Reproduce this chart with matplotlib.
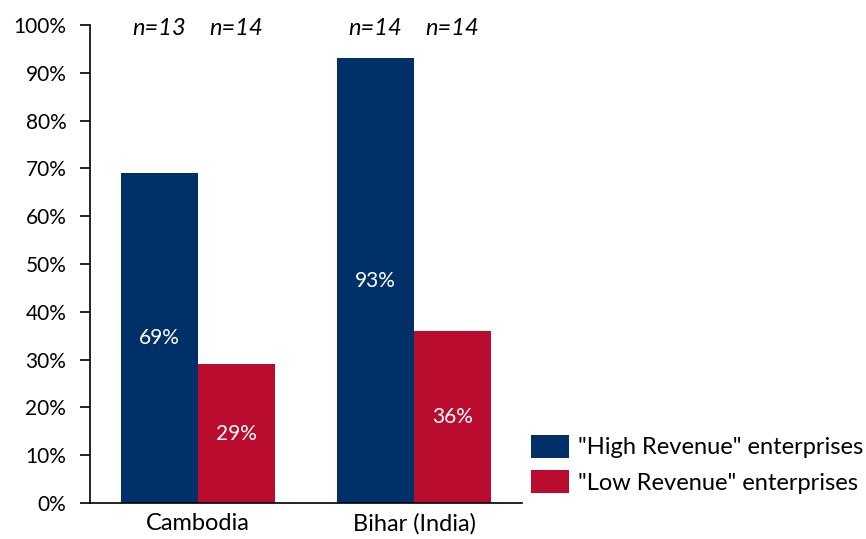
import matplotlib.pyplot as plt
import numpy as np

plt.rcParams['font.family'] = ['Lato', 'DejaVu Sans']

regions = ['Cambodia', 'Bihar (India)']
high_rev = [69, 93]
low_rev = [29, 36]
n_high = ['n=13', 'n=14']
n_low = ['n=14', 'n=14']
series_names = ['"High Revenue" enterprises', '"Low Revenue" enterprises']

navy = '#003068'
red = '#BA0C2F'

fig = plt.figure(figsize=(8.66, 5.39), dpi=100)
ax = fig.add_axes([0.1039, 0.0668, 0.4989, 0.8868])

x = np.arange(len(regions))
w = 0.355
b1 = ax.bar(x - w / 2, high_rev, w, color=navy, label=series_names[0])
b2 = ax.bar(x + w / 2, low_rev, w, color=red, label=series_names[1])

# value labels in the middle of each bar
for bars, vals in ((b1, high_rev), (b2, low_rev)):
    for rect, v in zip(bars, vals):
        ax.text(rect.get_x() + rect.get_width() / 2, v / 2, f'{v}%',
                ha='center', va='center', color='white', fontsize=15)

# sample sizes on top
for i in range(len(regions)):
    ax.text(x[i] - w / 2, 99.3, n_high[i], ha='center', va='center',
            style='italic', fontsize=17)
    ax.text(x[i] + w / 2, 99.3, n_low[i], ha='center', va='center',
            style='italic', fontsize=17)

ax.set_xlim(-0.5, 1.5)
ax.set_ylim(0, 100)
ax.set_yticks(np.arange(0, 101, 10))
ax.set_yticklabels([f'{t}%' for t in range(0, 101, 10)], fontsize=15)
ax.set_xticks(x)
ax.set_xticklabels(regions, fontsize=17)
ax.tick_params(axis='x', length=0, pad=7)
ax.tick_params(axis='y', length=7, width=1.2, pad=10)
for s in ('top', 'right'):
    ax.spines[s].set_visible(False)
ax.spines['left'].set_linewidth(1.2)
ax.spines['bottom'].set_linewidth(1.2)

ax.legend(loc='lower left', bbox_to_anchor=(1.0, 0.0), frameon=False,
          fontsize=17, handlelength=1.57, handleheight=1.1,
          handletextpad=0.4, labelspacing=0.5, borderaxespad=0,
          borderpad=0.4)

fig.savefig('out.png', dpi=100)
